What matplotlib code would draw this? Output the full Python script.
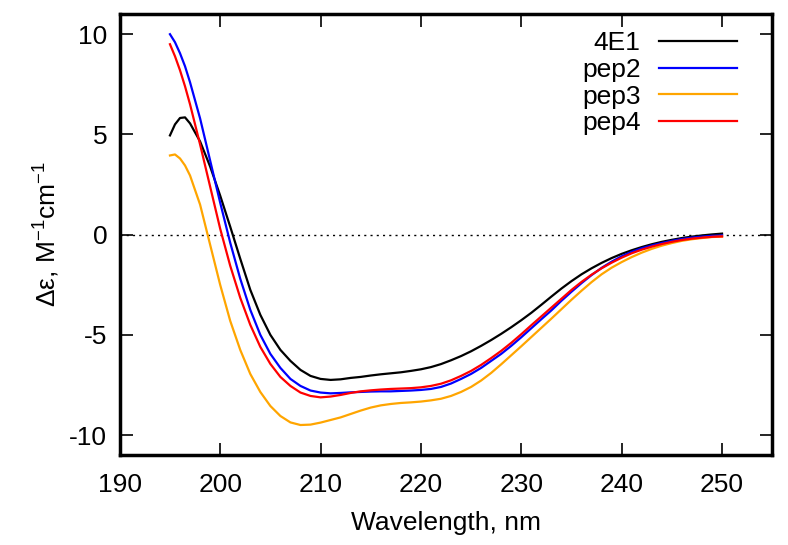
import numpy as np
import matplotlib.pyplot as plt

plt.rcParams['font.family'] = ['Liberation Sans', 'DejaVu Sans']
plt.rcParams['axes.unicode_minus'] = False

########### data
wl = [195, 195.5, 196, 196.5, 197] + list(range(198, 251))

e4e1 = [4.95, 5.5, 5.82, 5.85, 5.55, 4.65, 3.4, 1.95, 0.4, -1.2, -2.75, -4.0, -5.0, -5.75,
        -6.3, -6.75, -7.05, -7.2, -7.25, -7.22, -7.15, -7.1, -7.03, -6.97, -6.92, -6.87,
        -6.8, -6.72, -6.61, -6.46, -6.27, -6.06, -5.82, -5.55, -5.26, -4.95, -4.62, -4.27,
        -3.9, -3.5, -3.09, -2.69, -2.32, -1.98, -1.68, -1.41, -1.17, -0.96, -0.78, -0.62,
        -0.48, -0.36, -0.26, -0.17, -0.1, -0.04, 0.01, 0.05]
pep2 = [10.0, 9.6, 9.05, 8.4, 7.6, 5.8, 3.7, 1.6, -0.4, -2.2, -3.75, -5.0, -5.95, -6.65,
        -7.2, -7.55, -7.78, -7.88, -7.92, -7.9, -7.87, -7.85, -7.83, -7.82, -7.82, -7.8,
        -7.78, -7.75, -7.7, -7.6, -7.43, -7.2, -6.95, -6.65, -6.3, -5.95, -5.55, -5.12,
        -4.67, -4.22, -3.78, -3.3, -2.85, -2.42, -2.02, -1.66, -1.35, -1.08, -0.86, -0.68,
        -0.54, -0.42, -0.31, -0.22, -0.15, -0.1, -0.06, -0.04]
pep3 = [3.95, 4.0, 3.8, 3.45, 2.95, 1.5, -0.5, -2.5, -4.3, -5.75, -6.95, -7.85, -8.55, -9.05,
        -9.37, -9.5, -9.48, -9.38, -9.25, -9.12, -8.95, -8.78, -8.63, -8.52, -8.45, -8.4,
        -8.37, -8.33, -8.27, -8.19, -8.05, -7.85, -7.6, -7.28, -6.9, -6.47, -6.02, -5.57,
        -5.11, -4.65, -4.19, -3.72, -3.25, -2.8, -2.37, -1.98, -1.65, -1.37, -1.12, -0.9,
        -0.71, -0.55, -0.42, -0.31, -0.23, -0.17, -0.12, -0.1]
pep4 = [9.5, 8.9, 8.2, 7.4, 6.5, 4.5, 2.4, 0.3, -1.55, -3.15, -4.5, -5.6, -6.45, -7.1,
        -7.55, -7.88, -8.05, -8.12, -8.08, -8.0, -7.9, -7.82, -7.77, -7.73, -7.7, -7.68,
        -7.66, -7.62, -7.55, -7.44, -7.27, -7.05, -6.8, -6.5, -6.16, -5.8, -5.4, -4.97,
        -4.52, -4.08, -3.64, -3.2, -2.76, -2.36, -2.0, -1.68, -1.4, -1.15, -0.93, -0.75,
        -0.6, -0.47, -0.36, -0.27, -0.2, -0.15, -0.11, -0.09]

names = ['4E1', 'pep2', 'pep3', 'pep4']
colors = ['black', 'blue', 'orange', 'red']
xticks = [190, 200, 210, 220, 230, 240, 250]
yticks = [-10, -5, 0, 5, 10]

fig = plt.figure(figsize=(7.88, 5.45), dpi=100)
ax = fig.add_axes([0.152, 0.165, 0.828, 0.809])

ax.axhline(0, color='black', lw=1, ls=(0, (1.5, 3)))
for y, name, c in zip([e4e1, pep2, pep3, pep4], names, colors):
    ax.plot(wl, y, color=c, lw=1.6, label=name)

ax.set_xlim(190, 255)
ax.set_ylim(-11, 11)
ax.set_xticks(xticks)
ax.set_yticks(yticks)
ax.tick_params(direction='in', length=9, width=1.2, top=True, right=True,
               labelsize=19, pad=9)
ax.tick_params(axis='x', pad=13)
for s in ax.spines.values():
    s.set_linewidth(2.5)

ax.set_xlabel('Wavelength, nm', fontsize=19, labelpad=10)
ax.set_ylabel('Δε, M$^{\\mathregular{-1}}$cm$^{\\mathregular{-1}}$', fontsize=19, labelpad=6)

leg = ax.legend(loc='upper right', frameon=False, markerfirst=False, fontsize=19,
                handlelength=2.95, handletextpad=0.7, labelspacing=0.1,
                borderaxespad=0.0, bbox_to_anchor=(0.962, 0.985))
for t in leg.get_texts():
    t.set_ha('right')

fig.savefig('out.png', dpi=100)
